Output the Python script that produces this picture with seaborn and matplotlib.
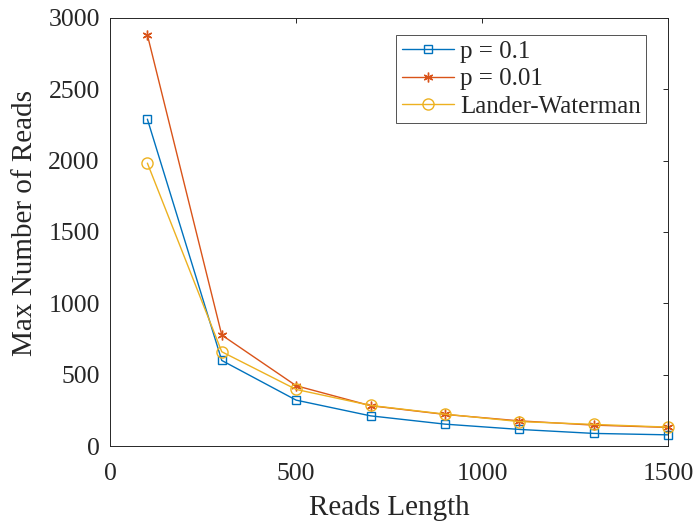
import matplotlib
matplotlib.use("Agg")
import matplotlib.pyplot as plt
import seaborn as sns
import pandas as pd

read_length = [100, 300, 500, 700, 900, 1100, 1300, 1500]
p_01 = [2290, 600, 322, 212, 154, 117, 89, 79]
p_001 = [2880, 778, 423, 283, 222, 177, 147, 131]
lander_waterman = [1982, 661, 397, 285, 224, 172, 152, 133]

series_names = ["p = 0.1", "p = 0.01", "Lander-Waterman"]
series_values = [p_01, p_001, lander_waterman]
colors = ["#0072BD", "#D95319", "#EDB120"]
markers = ["s", (6, 2, 0), "o"]
marker_sizes = [6, 7, 8]

sns.set_style("white")
plt.rcParams["font.family"] = ["Liberation Serif", "DejaVu Serif"]

frames = []
for name, vals in zip(series_names, series_values):
    frames.append(pd.DataFrame({"Reads Length": read_length, "Max": vals, "series": name}))
df = pd.concat(frames, ignore_index=True)

fig = plt.figure(figsize=(6.93, 5.23), dpi=100)
ax = fig.add_axes([0.159, 0.147, 0.805, 0.819])

for name, color, marker, ms in zip(series_names, colors, markers, marker_sizes):
    sub = df[df["series"] == name]
    sns.lineplot(data=sub, x="Reads Length", y="Max", ax=ax, color=color,
                 marker=marker, markersize=ms, markerfacecolor="none",
                 markeredgecolor=color, markeredgewidth=1.0, linewidth=1.0,
                 label=name, clip_on=False)

ax.set_xlim(0, 1500)
ax.set_ylim(0, 3000)
ax.set_xticks([0, 500, 1000, 1500])
ax.set_yticks([0, 500, 1000, 1500, 2000, 2500, 3000])
ax.set_xlabel("Reads Length", fontsize=21, labelpad=7)
ax.set_ylabel("Max Number of Reads", fontsize=21)
ax.yaxis.set_label_coords(-0.13, 0.52)
ax.tick_params(direction="in", length=3.5, width=0.7, top=True, right=True,
               labelsize=18.5, colors="#262626")
ax.tick_params(axis="x", pad=12)
ax.tick_params(axis="y", pad=7.5)
for s in ax.spines.values():
    s.set_visible(True)
    s.set_color("#262626")
    s.set_linewidth(0.7)

leg = ax.legend(loc="upper right", bbox_to_anchor=(0.9606, 0.960), fontsize=18,
                frameon=True, fancybox=False, handlelength=2.08,
                borderpad=0.22, labelspacing=0.2, handletextpad=0.25,
                borderaxespad=0.0)
leg.get_frame().set_edgecolor("#262626")
leg.get_frame().set_linewidth(0.7)

fig.savefig("out.png", dpi=100)
